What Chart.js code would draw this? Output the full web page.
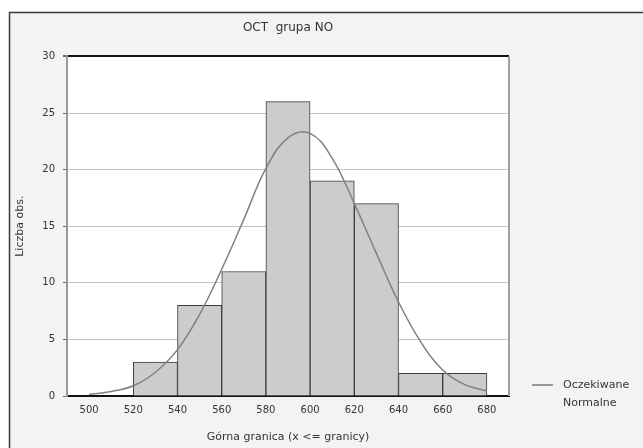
<!DOCTYPE html>
<html><head><meta charset="utf-8">
<script src="https://cdn.jsdelivr.net/npm/chart.js@4/dist/chart.umd.min.js"></script>
<style>html,body{margin:0;padding:0;background:#fff;}</style>
</head><body>
<canvas id="c" width="643" height="448"></canvas>
<script>
const titleText = 'OCT  grupa NO';
const xAxisTitle = 'Górna granica (x <= granicy)';
const yAxisTitle = 'Liczba obs.';
const legendLines = ['Oczekiwane', 'Normalne'];

const binLower = [520, 540, 560, 580, 600, 620, 640, 660];
const binUpper = [540, 560, 580, 600, 620, 640, 660, 680];
const binCounts = [3, 8, 11, 26, 19, 17, 2, 2];

const curveX = [500, 510, 520, 530, 540, 550, 560, 570, 580, 590, 600, 610, 620, 630, 640, 650, 660, 670, 680];
const curveY = [0.15, 0.4, 0.9, 2.1, 4.1, 7.2, 11.2, 15.6, 20.1, 22.8, 23.2, 21.0, 17.0, 12.6, 8.3, 4.8, 2.3, 1.0, 0.45];

const xTicks = [500, 520, 540, 560, 580, 600, 620, 640, 660, 680];
const yTicks = [0, 5, 10, 15, 20, 25, 30];

const FONT = 'DejaVu Sans, Liberation Sans, Arial, sans-serif';
const TXT = '#333';

const barData = binCounts.map((v, i) => ({x: (binLower[i] + binUpper[i]) / 2, y: v}));
const curveData = curveX.map((x, i) => ({x: x, y: curveY[i]}));

const framePlugin = {
  id: 'frame',
  beforeDraw(chart) {
    const ctx = chart.ctx, a = chart.chartArea;
    ctx.save();
    ctx.fillStyle = '#ffffff';
    ctx.fillRect(0, 0, chart.width, chart.height);
    ctx.fillStyle = '#f3f3f3';
    ctx.fillRect(10, 13, chart.width - 10, chart.height - 13);
    ctx.fillStyle = '#ffffff';
    ctx.fillRect(a.left, a.top, a.right - a.left, a.bottom - a.top);
    ctx.strokeStyle = '#3a3a3a';
    ctx.lineWidth = 1.5;
    ctx.beginPath();
    ctx.moveTo(9.5, chart.height);
    ctx.lineTo(9.5, 12.5);
    ctx.lineTo(chart.width, 12.5);
    ctx.stroke();
    ctx.restore();
  },
  afterDraw(chart) {
    const ctx = chart.ctx, a = chart.chartArea;
    ctx.save();
    ctx.strokeStyle = '#a0a0a0';
    ctx.lineWidth = 2;
    ctx.beginPath();
    ctx.moveTo(a.right, a.top);
    ctx.lineTo(a.right, a.bottom);
    ctx.stroke();
    const lx = a.right + 23, ly = 385;
    ctx.strokeStyle = '#7a7a7a';
    ctx.lineWidth = 1.5;
    ctx.beginPath();
    ctx.moveTo(lx, ly);
    ctx.lineTo(lx + 21, ly);
    ctx.stroke();
    ctx.fillStyle = TXT;
    ctx.font = '11px ' + FONT;
    ctx.textBaseline = 'middle';
    ctx.textAlign = 'left';
    legendLines.forEach((t, i) => ctx.fillText(t, lx + 31, ly + i * 18));
    ctx.restore();
  }
};

new Chart(document.getElementById('c'), {
  data: {
    datasets: [
      {
        type: 'line',
        label: legendLines.join(' '),
        data: curveData,
        borderColor: '#808080',
        borderWidth: 1.5,
        pointRadius: 0,
        tension: 0.4,
        fill: false,
        order: 0
      },
      {
        type: 'bar',
        label: 'Liczba obs.',
        data: barData,
        backgroundColor: '#cccccc',
        borderColor: '#3c3c3c',
        borderWidth: 1,
        barPercentage: 1,
        categoryPercentage: 1,
        grouped: false,
        order: 1
      }
    ]
  },
  options: {
    responsive: false,
    animation: false,
    devicePixelRatio: 1,
    layout: {padding: {left: 0, right: 134, top: 0, bottom: 0}},
    plugins: {
      legend: {display: false},
      tooltip: {enabled: false},
      title: {
        display: true,
        text: titleText,
        fullSize: false,
        color: TXT,
        font: {family: FONT, size: 12, weight: 'normal'},
        padding: {top: 21, bottom: 21}
      }
    },
    scales: {
      x: {
        type: 'linear',
        min: 490,
        max: 690,
        offset: false,
        afterBuildTicks: s => { s.ticks = xTicks.map(v => ({value: v})); },
        afterFit: s => { s.height = 52; },
        grid: {drawOnChartArea: false, drawTicks: false, offset: false},
        border: {color: '#111', width: 2},
        ticks: {color: TXT, font: {family: FONT, size: 10}, padding: 8, autoSkip: false, maxRotation: 0},
        title: {display: true, text: xAxisTitle, color: TXT, font: {family: FONT, size: 11}, padding: {top: 4, bottom: 4}}
      },
      y: {
        type: 'linear',
        min: 0,
        max: 30,
        afterBuildTicks: s => { s.ticks = yTicks.map(v => ({value: v})); },
        afterFit: s => { s.width = 67; },
        grid: {
          color: c => (c.tick && c.tick.value === 30) ? '#111' : '#c4c4c4',
          lineWidth: c => (c.tick && c.tick.value === 30) ? 2 : 1,
          tickLength: 4,
          tickColor: '#666'
        },
        border: {color: '#9a9a9a', width: 2},
        ticks: {color: TXT, font: {family: FONT, size: 10}, padding: 8},
        title: {display: true, text: yAxisTitle, color: TXT, font: {family: FONT, size: 11}, padding: {top: 14, bottom: 4}}
      }
    }
  },
  plugins: [framePlugin]
});
</script>
</body></html>
